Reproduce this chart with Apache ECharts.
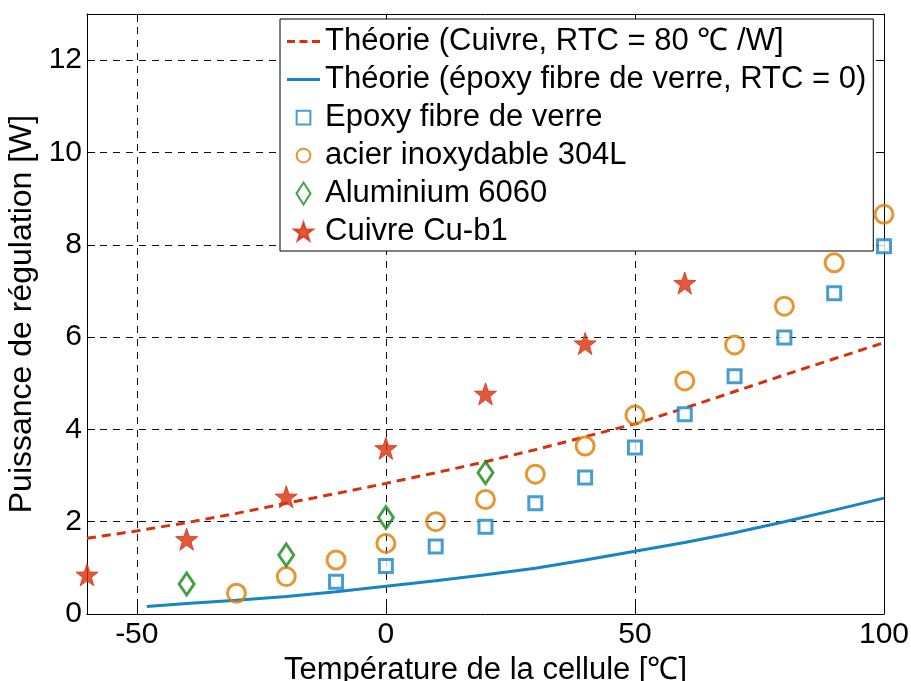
<!DOCTYPE html>
<html>
<head>
<meta charset="utf-8">
<script src="https://cdn.jsdelivr.net/npm/echarts@6/dist/echarts.min.js"></script>
<style>html,body{margin:0;padding:0;background:#fff;}#c{width:911px;height:681px;}</style>
</head>
<body>
<div id="c"></div>
<script>
// ---- data ----
const xTicks = [-50, 0, 50, 100];
const yTicks = [0, 2, 4, 6, 8, 10, 12];

const theoCuX = [-60, -50, -40, -30, -20, -10, 0, 10, 20, 30, 40, 50, 60, 70, 80, 90, 100];
const theoCuY = [1.64, 1.80, 1.98, 2.18, 2.40, 2.61, 2.83, 3.06, 3.30, 3.56, 3.84, 4.12, 4.46, 4.82, 5.18, 5.53, 5.88];

const theoEpX = [-48, -40, -30, -20, -10, 0, 10, 20, 30, 40, 50, 60, 70, 80, 90, 100];
const theoEpY = [0.16, 0.23, 0.30, 0.38, 0.48, 0.60, 0.72, 0.85, 0.99, 1.17, 1.36, 1.55, 1.76, 2.00, 2.25, 2.51];

const epoxyX = [-10, 0, 10, 20, 30, 40, 50, 60, 70, 80, 90, 100];
const epoxyY = [0.70, 1.04, 1.46, 1.89, 2.40, 2.96, 3.61, 4.33, 5.15, 5.99, 6.95, 7.97];

const acierX = [-30, -20, -10, 0, 10, 20, 30, 40, 50, 60, 70, 80, 90, 100];
const acierY = [0.45, 0.81, 1.17, 1.53, 2.00, 2.48, 3.03, 3.64, 4.31, 5.05, 5.83, 6.67, 7.61, 8.66];

const aluX = [-40, -20, 0, 20];
const aluY = [0.65, 1.28, 2.09, 3.06];

const cuivreX = [-60, -40, -20, 0, 20, 40, 60];
const cuivreY = [0.85, 1.62, 2.54, 3.59, 4.77, 5.86, 7.17];

const names = [
  'Théorie (Cuivre, RTC = 80 \u2103 /W]',
  'Théorie (époxy fibre de verre, RTC = 0)',
  'Epoxy fibre de verre',
  'acier inoxydable 304L',
  'Aluminium 6060',
  'Cuivre Cu-b1'
];

const zip = (xs, ys) => xs.map((x, i) => [x, ys[i]]);

const RED = '#d9300c', BLUE = '#1684c6', ORANGE = '#df7d00', GREEN = '#138a13';
const STAR = 'path://M0,-10 L2.35,-3.24 L9.51,-3.09 L3.8,1.24 L5.88,8.09 L0,4 L-5.88,8.09 L-3.8,1.24 L-9.51,-3.09 L-2.35,-3.24 Z';
const FONT = '"Liberation Sans", Arial, sans-serif';

// legend icons (padded bounding boxes keep the marker small inside the icon box)
const ICON_DASH = 'path://M0,0 L8,0 L8,3 L0,3 Z M12.5,0 L20.5,0 L20.5,3 L12.5,3 Z M25,0 L33,0 L33,3 L25,3 Z';
const ICON_LINE = 'path://M0,0 L33,0 L33,3 L0,3 Z';
const ICON_SQUARE = 'path://M-3,-3 M0,0 L10,0 L10,10 L0,10 Z M13,13';
const ICON_CIRCLE = 'path://M-1,-1 M15,15 M7,2 A5,5 0 1 1 7,12 A5,5 0 1 1 7,2 Z';
const ICON_DIAMOND = 'path://M7,0 L14,11 L7,22 L0,11 Z';
const ICON_STAR = 'path://M-11,-12 M11,10 M0,-10 L2.35,-3.24 L9.51,-3.09 L3.8,1.24 L5.88,8.09 L0,4 L-5.88,8.09 L-3.8,1.24 L-9.51,-3.09 L-2.35,-3.24 Z';
const legendIcons = [ICON_DASH, ICON_LINE, ICON_SQUARE, ICON_CIRCLE, ICON_DIAMOND, ICON_STAR];

const chart = echarts.init(document.getElementById('c'), null, {renderer: 'canvas'});

const splitStyle = {show: true, lineStyle: {color: '#111', width: 1, type: [7, 6]}};

chart.setOption({
  animation: false,
  backgroundColor: '#fff',
  textStyle: {fontFamily: FONT},
  grid: {left: 87, right: 27, top: 14, bottom: 67, containLabel: false, outerBoundsMode: 'none'},
  legend: {
    orient: 'vertical',
    left: 280, top: 19,
    backgroundColor: '#fff',
    borderColor: '#000', borderWidth: 1,
    padding: [7, 7, 4, 7],
    itemWidth: 33, itemHeight: 22, itemGap: 7,
    textStyle: {fontFamily: FONT, fontSize: 31, color: '#000', lineHeight: 31},
    data: names.map((n, i) => ({name: n, icon: legendIcons[i]}))
  },
  xAxis: [{
    type: 'value', position: 'bottom', min: -60, max: 100,
    axisLine: {show: true, onZero: false, lineStyle: {color: '#000', width: 1}},
    axisTick: {show: true, inside: true, length: 8, customValues: xTicks, lineStyle: {color: '#000'}},
    axisLabel: {show: true, customValues: xTicks, fontSize: 30, color: '#000', margin: 6, fontFamily: FONT},
    splitLine: splitStyle,
    name: 'Température de la cellule [\u2103]',
    nameLocation: 'middle', nameGap: 34,
    nameTextStyle: {fontSize: 31, color: '#000', fontFamily: FONT}
  }, {
    type: 'value', position: 'top', min: -60, max: 100,
    axisLine: {show: true, onZero: false, lineStyle: {color: '#000', width: 1}},
    axisTick: {show: true, inside: true, length: 8, customValues: xTicks, lineStyle: {color: '#000'}},
    axisLabel: {show: false},
    splitLine: {show: false}
  }],
  yAxis: [{
    type: 'value', position: 'left', min: 0, max: 13,
    axisLine: {show: true, onZero: false, lineStyle: {color: '#000', width: 1}},
    axisTick: {show: true, inside: true, length: 8, customValues: yTicks, lineStyle: {color: '#000'}},
    axisLabel: {show: true, customValues: yTicks, fontSize: 30, color: '#000', margin: 5, fontFamily: FONT},
    splitLine: splitStyle,
    name: 'Puissance de régulation [W]',
    nameLocation: 'middle', nameGap: 44, nameRotate: 90,
    nameTextStyle: {fontSize: 32, color: '#000', fontFamily: FONT}
  }, {
    type: 'value', position: 'right', min: 0, max: 13,
    axisLine: {show: true, onZero: false, lineStyle: {color: '#000', width: 1}},
    axisTick: {show: true, inside: true, length: 8, customValues: yTicks, lineStyle: {color: '#000'}},
    axisLabel: {show: false},
    splitLine: {show: false}
  }],
  series: [
    {
      name: names[0], type: 'line', xAxisIndex: 0, yAxisIndex: 0,
      data: zip(theoCuX, theoCuY), symbol: 'none', smooth: false,
      lineStyle: {color: RED, width: 3, type: [9, 6]}, itemStyle: {color: RED},
      emphasis: {disabled: true}, z: 3
    },
    {
      name: names[1], type: 'line', xAxisIndex: 0, yAxisIndex: 0,
      data: zip(theoEpX, theoEpY), symbol: 'none', smooth: false,
      lineStyle: {color: BLUE, width: 3}, itemStyle: {color: BLUE},
      emphasis: {disabled: true}, z: 3
    },
    {
      name: names[2], type: 'scatter', xAxisIndex: 0, yAxisIndex: 0,
      data: zip(epoxyX, epoxyY), symbol: 'rect', symbolSize: 13, clip: false,
      itemStyle: {color: '#fff', borderColor: BLUE, borderWidth: 3},
      emphasis: {disabled: true}, z: 4
    },
    {
      name: names[3], type: 'scatter', xAxisIndex: 0, yAxisIndex: 0,
      data: zip(acierX, acierY), symbol: 'circle', symbolSize: 18, clip: false,
      itemStyle: {color: 'rgba(255,255,255,0)', borderColor: ORANGE, borderWidth: 3},
      emphasis: {disabled: true}, z: 4
    },
    {
      name: names[4], type: 'scatter', xAxisIndex: 0, yAxisIndex: 0,
      data: zip(aluX, aluY), symbol: 'diamond', symbolSize: [15, 22], clip: false,
      itemStyle: {color: 'rgba(255,255,255,0)', borderColor: GREEN, borderWidth: 3},
      emphasis: {disabled: true}, z: 4
    },
    {
      name: names[5], type: 'scatter', xAxisIndex: 0, yAxisIndex: 0,
      data: zip(cuivreX, cuivreY), symbol: STAR, symbolSize: 22, clip: false,
      itemStyle: {color: RED, borderColor: RED, borderWidth: 1},
      emphasis: {disabled: true}, z: 4
    }
  ]
});
</script>
</body>
</html>
